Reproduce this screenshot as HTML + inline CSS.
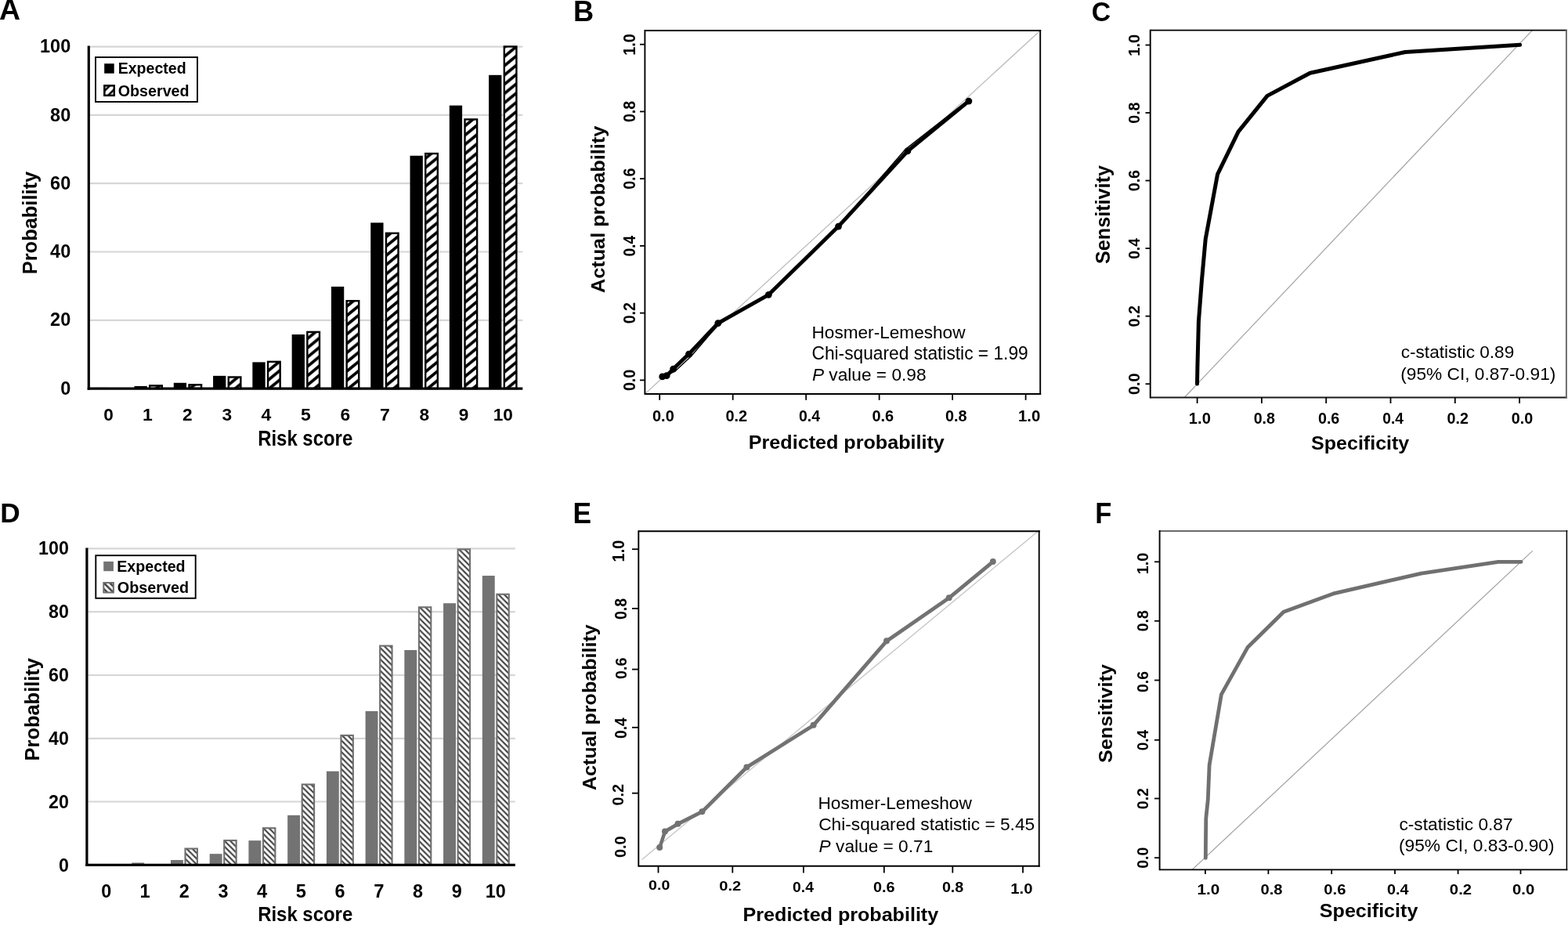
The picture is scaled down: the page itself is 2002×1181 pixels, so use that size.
<!DOCTYPE html>
<html><head><meta charset="utf-8"><title>Figure</title>
<style>
html,body{margin:0;padding:0;background:#fff;}
body{width:2002px;height:1181px;overflow:hidden;}
svg{display:block;}
text{font-family:'Liberation Sans', Arial, Helvetica, sans-serif;}
</style></head><body>
<svg width="2002" height="1181" viewBox="0 0 2002 1181">
<rect width="2002" height="1181" fill="#fff"/>
<defs>
<pattern id="hatchA" patternUnits="userSpaceOnUse" x="0" y="0" width="14.4512" height="11.8500"><rect x="-1" y="-1" width="16.451" height="13.850" fill="#fff"/><path d="M-2.00,-14.360L16.451,-29.490M-2.00,-2.510L16.451,-17.640M-2.00,9.340L16.451,-5.790M-2.00,21.190L16.451,6.060M-2.00,33.040L16.451,17.910M-2.00,44.890L16.451,29.760" stroke="#000" stroke-width="3.712" fill="none"/></pattern>
<pattern id="hatchAi" patternUnits="userSpaceOnUse" x="0" y="0" width="10.5000" height="10.5000"><rect x="-1" y="-1" width="12.500" height="12.500" fill="#fff"/><path d="M-2.00,-11.000L12.500,-25.500M-2.00,-0.500L12.500,-15.000M-2.00,10.000L12.500,-4.500M-2.00,20.500L12.500,6.000M-2.00,31.000L12.500,16.500M-2.00,41.500L12.500,27.000" stroke="#000" stroke-width="2.546" fill="none"/></pattern>
<pattern id="hatchD" patternUnits="userSpaceOnUse" x="0" y="0" width="7.3000" height="7.3000"><rect x="-1" y="-1" width="9.300" height="9.300" fill="#fff"/><path d="M-2.00,-10.800L9.300,0.500M-2.00,-3.500L9.300,7.800M-2.00,3.800L9.300,15.100M-2.00,11.100L9.300,22.400M-2.00,18.400L9.300,29.700M-2.00,25.700L9.300,37.000" stroke="#3f3f3f" stroke-width="2.121" fill="none"/></pattern>
<pattern id="hatchDi" patternUnits="userSpaceOnUse" x="0" y="0" width="7.6500" height="7.6500"><rect x="-1" y="-1" width="9.650" height="9.650" fill="#fff"/><path d="M-2.00,-10.000L9.650,1.650M-2.00,-2.350L9.650,9.300M-2.00,5.300L9.650,16.950M-2.00,12.950L9.650,24.600M-2.00,20.600L9.650,32.250M-2.00,28.250L9.650,39.900" stroke="#3e3e3e" stroke-width="2.546" fill="none"/></pattern>
</defs>
<line x1="115.00" y1="59.60" x2="667.30" y2="59.60" stroke="#d6d6d6" stroke-width="2.2" stroke-linecap="butt"/>
<line x1="115.00" y1="146.90" x2="667.30" y2="146.90" stroke="#d6d6d6" stroke-width="2.2" stroke-linecap="butt"/>
<line x1="115.00" y1="234.20" x2="667.30" y2="234.20" stroke="#d6d6d6" stroke-width="2.2" stroke-linecap="butt"/>
<line x1="115.00" y1="321.50" x2="667.30" y2="321.50" stroke="#d6d6d6" stroke-width="2.2" stroke-linecap="butt"/>
<line x1="115.00" y1="408.80" x2="667.30" y2="408.80" stroke="#d6d6d6" stroke-width="2.2" stroke-linecap="butt"/>
<rect x="121.20" y="494.91" width="16.30" height="1.09" fill="#000"/>
<rect x="171.49" y="492.95" width="16.30" height="3.05" fill="#000"/>
<rect x="191.19" y="492.40" width="15.60" height="3.60" fill="url(#hatchA)" stroke="#000" stroke-width="2.4"/>
<rect x="221.78" y="488.80" width="16.30" height="7.20" fill="#000"/>
<rect x="241.48" y="491.31" width="15.60" height="4.69" fill="url(#hatchA)" stroke="#000" stroke-width="2.4"/>
<rect x="272.07" y="479.85" width="16.30" height="16.15" fill="#000"/>
<rect x="291.77" y="481.49" width="15.60" height="14.51" fill="url(#hatchA)" stroke="#000" stroke-width="2.4"/>
<rect x="322.36" y="462.40" width="16.30" height="33.60" fill="#000"/>
<rect x="342.06" y="461.85" width="15.60" height="34.15" fill="url(#hatchA)" stroke="#000" stroke-width="2.4"/>
<rect x="372.65" y="427.05" width="16.30" height="68.95" fill="#000"/>
<rect x="392.35" y="423.88" width="15.60" height="72.12" fill="url(#hatchA)" stroke="#000" stroke-width="2.4"/>
<rect x="422.94" y="365.95" width="16.30" height="130.05" fill="#000"/>
<rect x="442.64" y="384.17" width="15.60" height="111.83" fill="url(#hatchA)" stroke="#000" stroke-width="2.4"/>
<rect x="473.23" y="284.35" width="16.30" height="211.65" fill="#000"/>
<rect x="492.93" y="297.77" width="15.60" height="198.23" fill="url(#hatchA)" stroke="#000" stroke-width="2.4"/>
<rect x="523.52" y="198.81" width="16.30" height="297.19" fill="#000"/>
<rect x="543.22" y="196.08" width="15.60" height="299.92" fill="url(#hatchA)" stroke="#000" stroke-width="2.4"/>
<rect x="573.81" y="134.66" width="16.30" height="361.34" fill="#000"/>
<rect x="593.51" y="152.44" width="15.60" height="343.56" fill="url(#hatchA)" stroke="#000" stroke-width="2.4"/>
<rect x="624.10" y="95.82" width="16.30" height="400.18" fill="#000"/>
<rect x="643.80" y="59.49" width="15.60" height="436.51" fill="url(#hatchA)" stroke="#000" stroke-width="2.4"/>
<line x1="113.30" y1="58.50" x2="113.30" y2="497.70" stroke="#000" stroke-width="3.2" stroke-linecap="butt"/>
<line x1="111.70" y1="496.10" x2="667.30" y2="496.10" stroke="#000" stroke-width="3.3" stroke-linecap="butt"/>
<rect x="122.00" y="73.10" width="130.00" height="56.90" fill="#fff" stroke="#000" stroke-width="1.9"/>
<rect x="133.20" y="81.20" width="12.50" height="12.50" fill="#000"/>
<rect x="133.35" y="109.35" width="12.40" height="12.50" fill="url(#hatchAi)" stroke="#000" stroke-width="2.5"/>
<text x="150.68" y="94.00" font-size="19.86" font-weight="bold" font-style="normal" textLength="86.92" lengthAdjust="spacingAndGlyphs" fill="#000">Expected</text>
<text x="150.81" y="122.70" font-size="19.72" font-weight="bold" font-style="normal" textLength="90.78" lengthAdjust="spacingAndGlyphs" fill="#000">Observed</text>
<text x="51.03" y="67.20" font-size="23.51" font-weight="bold" font-style="normal" textLength="39.23" lengthAdjust="spacingAndGlyphs" fill="#000">100</text>
<text x="64.14" y="154.50" font-size="23.51" font-weight="bold" font-style="normal" textLength="26.15" lengthAdjust="spacingAndGlyphs" fill="#000">80</text>
<text x="64.14" y="241.80" font-size="23.51" font-weight="bold" font-style="normal" textLength="26.15" lengthAdjust="spacingAndGlyphs" fill="#000">60</text>
<text x="64.14" y="329.10" font-size="23.51" font-weight="bold" font-style="normal" textLength="26.15" lengthAdjust="spacingAndGlyphs" fill="#000">40</text>
<text x="64.14" y="416.40" font-size="23.51" font-weight="bold" font-style="normal" textLength="26.15" lengthAdjust="spacingAndGlyphs" fill="#000">20</text>
<text x="77.19" y="503.90" font-size="23.51" font-weight="bold" font-style="normal" textLength="13.08" lengthAdjust="spacingAndGlyphs" fill="#000">0</text>
<text x="132.21" y="537.00" font-size="22.65" font-weight="bold" font-style="normal" textLength="12.60" lengthAdjust="spacingAndGlyphs" fill="#000">0</text>
<text x="182.12" y="537.00" font-size="22.98" font-weight="bold" font-style="normal" textLength="12.78" lengthAdjust="spacingAndGlyphs" fill="#000">1</text>
<text x="233.04" y="537.00" font-size="22.65" font-weight="bold" font-style="normal" textLength="12.60" lengthAdjust="spacingAndGlyphs" fill="#000">2</text>
<text x="283.56" y="537.00" font-size="22.65" font-weight="bold" font-style="normal" textLength="12.60" lengthAdjust="spacingAndGlyphs" fill="#000">3</text>
<text x="333.61" y="537.00" font-size="22.98" font-weight="bold" font-style="normal" textLength="12.78" lengthAdjust="spacingAndGlyphs" fill="#000">4</text>
<text x="384.09" y="537.00" font-size="22.98" font-weight="bold" font-style="normal" textLength="12.78" lengthAdjust="spacingAndGlyphs" fill="#000">5</text>
<text x="434.59" y="537.00" font-size="22.65" font-weight="bold" font-style="normal" textLength="12.60" lengthAdjust="spacingAndGlyphs" fill="#000">6</text>
<text x="484.92" y="537.00" font-size="22.98" font-weight="bold" font-style="normal" textLength="12.78" lengthAdjust="spacingAndGlyphs" fill="#000">7</text>
<text x="535.39" y="537.00" font-size="22.65" font-weight="bold" font-style="normal" textLength="12.60" lengthAdjust="spacingAndGlyphs" fill="#000">8</text>
<text x="585.81" y="537.00" font-size="22.65" font-weight="bold" font-style="normal" textLength="12.60" lengthAdjust="spacingAndGlyphs" fill="#000">9</text>
<text x="629.67" y="537.00" font-size="22.65" font-weight="bold" font-style="normal" textLength="25.20" lengthAdjust="spacingAndGlyphs" fill="#000">10</text>
<text x="329.19" y="568.80" font-size="26.76" font-weight="bold" font-style="normal" textLength="121.02" lengthAdjust="spacingAndGlyphs" fill="#000">Risk score</text>
<text transform="translate(47.10,350.22) rotate(-90)" font-size="25.24" font-weight="bold" textLength="131.35" lengthAdjust="spacingAndGlyphs">Probability</text>
<text x="-0.94" y="24.90" font-size="36.51" font-weight="bold" font-style="normal" textLength="27.06" lengthAdjust="spacingAndGlyphs" fill="#000">A</text>
<line x1="112.50" y1="700.30" x2="657.80" y2="700.30" stroke="#d6d6d6" stroke-width="2.2" stroke-linecap="butt"/>
<line x1="112.50" y1="781.10" x2="657.80" y2="781.10" stroke="#d6d6d6" stroke-width="2.2" stroke-linecap="butt"/>
<line x1="112.50" y1="862.00" x2="657.80" y2="862.00" stroke="#d6d6d6" stroke-width="2.2" stroke-linecap="butt"/>
<line x1="112.50" y1="942.80" x2="657.80" y2="942.80" stroke="#d6d6d6" stroke-width="2.2" stroke-linecap="butt"/>
<line x1="112.50" y1="1023.50" x2="657.80" y2="1023.50" stroke="#d6d6d6" stroke-width="2.2" stroke-linecap="butt"/>
<rect x="118.50" y="1103.90" width="15.90" height="0.40" fill="#737373"/>
<rect x="168.23" y="1101.47" width="15.90" height="2.83" fill="#737373"/>
<rect x="217.96" y="1098.04" width="15.90" height="6.26" fill="#737373"/>
<rect x="236.51" y="1083.53" width="15.40" height="20.77" fill="url(#hatchD)" stroke="#6f6f6f" stroke-width="2.1"/>
<rect x="267.69" y="1090.16" width="15.90" height="14.14" fill="#737373"/>
<rect x="286.24" y="1073.03" width="15.40" height="31.27" fill="url(#hatchD)" stroke="#6f6f6f" stroke-width="2.1"/>
<rect x="317.42" y="1073.19" width="15.90" height="31.11" fill="#737373"/>
<rect x="335.97" y="1057.27" width="15.40" height="47.03" fill="url(#hatchD)" stroke="#6f6f6f" stroke-width="2.1"/>
<rect x="367.15" y="1040.87" width="15.90" height="63.43" fill="#737373"/>
<rect x="385.70" y="1001.52" width="15.40" height="102.78" fill="url(#hatchD)" stroke="#6f6f6f" stroke-width="2.1"/>
<rect x="416.88" y="984.72" width="15.90" height="119.58" fill="#737373"/>
<rect x="435.43" y="938.90" width="15.40" height="165.40" fill="url(#hatchD)" stroke="#6f6f6f" stroke-width="2.1"/>
<rect x="466.61" y="907.96" width="15.90" height="196.34" fill="#737373"/>
<rect x="485.16" y="824.57" width="15.40" height="279.73" fill="url(#hatchD)" stroke="#6f6f6f" stroke-width="2.1"/>
<rect x="516.34" y="829.98" width="15.90" height="274.32" fill="#737373"/>
<rect x="534.89" y="775.28" width="15.40" height="329.02" fill="url(#hatchD)" stroke="#6f6f6f" stroke-width="2.1"/>
<rect x="566.07" y="770.19" width="15.90" height="334.11" fill="#737373"/>
<rect x="584.62" y="701.35" width="15.40" height="402.95" fill="url(#hatchD)" stroke="#6f6f6f" stroke-width="2.1"/>
<rect x="615.80" y="735.04" width="15.90" height="369.26" fill="#737373"/>
<rect x="634.35" y="758.72" width="15.40" height="345.58" fill="url(#hatchD)" stroke="#6f6f6f" stroke-width="2.1"/>
<line x1="110.90" y1="699.50" x2="110.90" y2="1106.00" stroke="#000" stroke-width="3.2" stroke-linecap="butt"/>
<line x1="109.30" y1="1104.40" x2="657.80" y2="1104.40" stroke="#000" stroke-width="3.3" stroke-linecap="butt"/>
<rect x="122.30" y="709.20" width="127.40" height="54.60" fill="#fff" stroke="#000" stroke-width="1.9"/>
<rect x="132.20" y="716.90" width="12.70" height="12.30" fill="#737373"/>
<rect x="132.30" y="744.00" width="12.60" height="12.50" fill="url(#hatchDi)" stroke="#6f6f6f" stroke-width="2.0"/>
<text x="149.27" y="729.70" font-size="19.72" font-weight="bold" font-style="normal" textLength="87.33" lengthAdjust="spacingAndGlyphs" fill="#000">Expected</text>
<text x="149.81" y="756.90" font-size="20.00" font-weight="bold" font-style="normal" textLength="91.30" lengthAdjust="spacingAndGlyphs" fill="#000">Observed</text>
<text x="49.10" y="707.70" font-size="23.23" font-weight="bold" font-style="normal" textLength="38.75" lengthAdjust="spacingAndGlyphs" fill="#000">100</text>
<text x="62.05" y="788.70" font-size="23.23" font-weight="bold" font-style="normal" textLength="25.84" lengthAdjust="spacingAndGlyphs" fill="#000">80</text>
<text x="62.05" y="870.00" font-size="23.23" font-weight="bold" font-style="normal" textLength="25.84" lengthAdjust="spacingAndGlyphs" fill="#000">60</text>
<text x="62.05" y="951.30" font-size="23.23" font-weight="bold" font-style="normal" textLength="25.84" lengthAdjust="spacingAndGlyphs" fill="#000">40</text>
<text x="62.05" y="1031.90" font-size="23.23" font-weight="bold" font-style="normal" textLength="25.84" lengthAdjust="spacingAndGlyphs" fill="#000">20</text>
<text x="74.94" y="1112.70" font-size="23.23" font-weight="bold" font-style="normal" textLength="12.92" lengthAdjust="spacingAndGlyphs" fill="#000">0</text>
<text x="129.22" y="1145.70" font-size="23.37" font-weight="bold" font-style="normal" textLength="13.00" lengthAdjust="spacingAndGlyphs" fill="#000">0</text>
<text x="178.44" y="1145.70" font-size="23.71" font-weight="bold" font-style="normal" textLength="13.19" lengthAdjust="spacingAndGlyphs" fill="#000">1</text>
<text x="228.70" y="1145.70" font-size="23.37" font-weight="bold" font-style="normal" textLength="13.00" lengthAdjust="spacingAndGlyphs" fill="#000">2</text>
<text x="278.55" y="1145.70" font-size="23.37" font-weight="bold" font-style="normal" textLength="13.00" lengthAdjust="spacingAndGlyphs" fill="#000">3</text>
<text x="327.92" y="1145.70" font-size="23.71" font-weight="bold" font-style="normal" textLength="13.19" lengthAdjust="spacingAndGlyphs" fill="#000">4</text>
<text x="377.74" y="1145.70" font-size="23.71" font-weight="bold" font-style="normal" textLength="13.19" lengthAdjust="spacingAndGlyphs" fill="#000">5</text>
<text x="427.57" y="1145.70" font-size="23.37" font-weight="bold" font-style="normal" textLength="13.00" lengthAdjust="spacingAndGlyphs" fill="#000">6</text>
<text x="477.23" y="1145.70" font-size="23.71" font-weight="bold" font-style="normal" textLength="13.19" lengthAdjust="spacingAndGlyphs" fill="#000">7</text>
<text x="527.03" y="1145.70" font-size="23.37" font-weight="bold" font-style="normal" textLength="13.00" lengthAdjust="spacingAndGlyphs" fill="#000">8</text>
<text x="576.79" y="1145.70" font-size="23.37" font-weight="bold" font-style="normal" textLength="13.00" lengthAdjust="spacingAndGlyphs" fill="#000">9</text>
<text x="619.77" y="1145.70" font-size="23.37" font-weight="bold" font-style="normal" textLength="25.99" lengthAdjust="spacingAndGlyphs" fill="#000">10</text>
<text x="329.19" y="1175.80" font-size="26.62" font-weight="bold" font-style="normal" textLength="121.02" lengthAdjust="spacingAndGlyphs" fill="#000">Risk score</text>
<text transform="translate(49.60,971.42) rotate(-90)" font-size="25.52" font-weight="bold" textLength="131.35" lengthAdjust="spacingAndGlyphs">Probability</text>
<text x="0.32" y="667.20" font-size="35.64" font-weight="bold" font-style="normal" textLength="25.47" lengthAdjust="spacingAndGlyphs" fill="#000">D</text>
<line x1="823.40" y1="503.00" x2="1328.20" y2="39.00" stroke="#bdbdbd" stroke-width="1.3" stroke-linecap="butt"/>
<line x1="823.40" y1="39.00" x2="1329.15" y2="39.00" stroke="#000" stroke-width="1.9" stroke-linecap="butt"/>
<line x1="823.40" y1="503.00" x2="1329.15" y2="503.00" stroke="#000" stroke-width="1.9" stroke-linecap="butt"/>
<line x1="823.40" y1="38.05" x2="823.40" y2="503.95" stroke="#000" stroke-width="1.9" stroke-linecap="butt"/>
<line x1="1328.20" y1="38.05" x2="1328.20" y2="503.95" stroke="#000" stroke-width="1.9" stroke-linecap="butt"/>
<line x1="817.00" y1="56.70" x2="823.40" y2="56.70" stroke="#000" stroke-width="1.8" stroke-linecap="butt"/>
<line x1="817.00" y1="142.44" x2="823.40" y2="142.44" stroke="#000" stroke-width="1.8" stroke-linecap="butt"/>
<line x1="817.00" y1="228.18" x2="823.40" y2="228.18" stroke="#000" stroke-width="1.8" stroke-linecap="butt"/>
<line x1="817.00" y1="313.92" x2="823.40" y2="313.92" stroke="#000" stroke-width="1.8" stroke-linecap="butt"/>
<line x1="817.00" y1="399.66" x2="823.40" y2="399.66" stroke="#000" stroke-width="1.8" stroke-linecap="butt"/>
<line x1="817.00" y1="485.40" x2="823.40" y2="485.40" stroke="#000" stroke-width="1.8" stroke-linecap="butt"/>
<line x1="842.20" y1="503.00" x2="842.20" y2="510.80" stroke="#000" stroke-width="1.8" stroke-linecap="butt"/>
<line x1="935.68" y1="503.00" x2="935.68" y2="510.80" stroke="#000" stroke-width="1.8" stroke-linecap="butt"/>
<line x1="1029.16" y1="503.00" x2="1029.16" y2="510.80" stroke="#000" stroke-width="1.8" stroke-linecap="butt"/>
<line x1="1122.64" y1="503.00" x2="1122.64" y2="510.80" stroke="#000" stroke-width="1.8" stroke-linecap="butt"/>
<line x1="1216.12" y1="503.00" x2="1216.12" y2="510.80" stroke="#000" stroke-width="1.8" stroke-linecap="butt"/>
<line x1="1309.60" y1="503.00" x2="1309.60" y2="510.80" stroke="#000" stroke-width="1.8" stroke-linecap="butt"/>
<polyline points="845.7,480.9 851.2,479.6 862.1,473.7 882.3,455.0 917.8,413.6 981.3,376.3 1070.5,289.1 1156.4,190.3 1235.9,128.1" fill="none" stroke="#000" stroke-width="1.5" stroke-linejoin="round" stroke-linecap="round"/>
<polyline points="845.7,480.9 851.2,479.6 859.6,471.1 879.5,452.1 916.8,412.6 981.3,376.3 1070.5,289.1 1158.9,192.8 1236.9,129.1" fill="none" stroke="#000" stroke-width="4.9" stroke-linejoin="round" stroke-linecap="round"/>
<circle cx="845.7" cy="480.9" r="4.4" fill="#000"/>
<circle cx="851.2" cy="479.6" r="4.4" fill="#000"/>
<circle cx="859.6" cy="471.1" r="4.4" fill="#000"/>
<circle cx="879.5" cy="452.1" r="4.4" fill="#000"/>
<circle cx="916.8" cy="412.6" r="4.4" fill="#000"/>
<circle cx="981.3" cy="376.3" r="4.4" fill="#000"/>
<circle cx="1070.5" cy="289.1" r="4.4" fill="#000"/>
<circle cx="1158.9" cy="192.8" r="4.4" fill="#000"/>
<circle cx="1236.9" cy="129.1" r="4.4" fill="#000"/>
<text x="833.00" y="538.20" font-size="20.36" font-weight="bold" font-style="normal" textLength="27.80" lengthAdjust="spacingAndGlyphs" fill="#000">0.0</text>
<text x="926.48" y="538.20" font-size="20.36" font-weight="bold" font-style="normal" textLength="27.75" lengthAdjust="spacingAndGlyphs" fill="#000">0.2</text>
<text x="1019.98" y="538.20" font-size="20.36" font-weight="bold" font-style="normal" textLength="27.08" lengthAdjust="spacingAndGlyphs" fill="#000">0.4</text>
<text x="1113.44" y="538.20" font-size="20.36" font-weight="bold" font-style="normal" textLength="27.70" lengthAdjust="spacingAndGlyphs" fill="#000">0.6</text>
<text x="1206.93" y="538.20" font-size="20.36" font-weight="bold" font-style="normal" textLength="27.59" lengthAdjust="spacingAndGlyphs" fill="#000">0.8</text>
<text x="1299.93" y="538.20" font-size="20.36" font-weight="bold" font-style="normal" textLength="28.29" lengthAdjust="spacingAndGlyphs" fill="#000">1.0</text>
<text transform="translate(811.40,499.09) rotate(-90)" font-size="21.79" font-weight="bold" textLength="27.38" lengthAdjust="spacingAndGlyphs">0.0</text>
<text transform="translate(811.40,413.35) rotate(-90)" font-size="21.79" font-weight="bold" textLength="27.33" lengthAdjust="spacingAndGlyphs">0.2</text>
<text transform="translate(811.40,327.59) rotate(-90)" font-size="21.79" font-weight="bold" textLength="26.67" lengthAdjust="spacingAndGlyphs">0.4</text>
<text transform="translate(811.40,241.86) rotate(-90)" font-size="21.79" font-weight="bold" textLength="27.28" lengthAdjust="spacingAndGlyphs">0.6</text>
<text transform="translate(811.40,156.12) rotate(-90)" font-size="21.79" font-weight="bold" textLength="27.17" lengthAdjust="spacingAndGlyphs">0.8</text>
<text transform="translate(811.40,70.85) rotate(-90)" font-size="21.79" font-weight="bold" textLength="27.86" lengthAdjust="spacingAndGlyphs">1.0</text>
<text transform="translate(772.40,374.03) rotate(-90)" font-size="24.00" font-weight="bold" textLength="213.27" lengthAdjust="spacingAndGlyphs">Actual probability</text>
<text x="955.80" y="573.30" font-size="24.69" font-weight="bold" font-style="normal" textLength="250.06" lengthAdjust="spacingAndGlyphs" fill="#000">Predicted probability</text>
<text x="1036.53" y="432.00" font-size="22.07" font-weight="normal" font-style="normal" textLength="196.00" lengthAdjust="spacingAndGlyphs" fill="#000">Hosmer-Lemeshow</text>
<text x="1036.46" y="459.10" font-size="23.03" font-weight="normal" font-style="normal" textLength="276.27" lengthAdjust="spacingAndGlyphs" fill="#000">Chi-squared statistic = 1.99</text>
<text x="1036.92" y="485.80" font-size="22.55" font-weight="normal" transform="translate(1036.92,0) scale(1.0060,1) translate(-1036.92,0)"><tspan font-style="italic">P</tspan> value = 0.98</text>
<text x="732.05" y="27.40" font-size="36.51" font-weight="bold" font-style="normal" textLength="26.16" lengthAdjust="spacingAndGlyphs" fill="#000">B</text>
<line x1="1512.30" y1="507.50" x2="1956.50" y2="38.60" stroke="#a6a6a6" stroke-width="1.3" stroke-linecap="butt"/>
<line x1="1468.70" y1="38.60" x2="2000.85" y2="38.60" stroke="#000" stroke-width="1.9" stroke-linecap="butt"/>
<line x1="1468.70" y1="507.50" x2="2000.85" y2="507.50" stroke="#1a1a1a" stroke-width="1.9" stroke-linecap="butt"/>
<line x1="1468.70" y1="37.65" x2="1468.70" y2="508.45" stroke="#000" stroke-width="1.9" stroke-linecap="butt"/>
<line x1="1999.90" y1="37.65" x2="1999.90" y2="508.45" stroke="#666" stroke-width="1.9" stroke-linecap="butt"/>
<line x1="1462.50" y1="57.50" x2="1468.70" y2="57.50" stroke="#000" stroke-width="1.8" stroke-linecap="butt"/>
<line x1="1462.50" y1="144.04" x2="1468.70" y2="144.04" stroke="#000" stroke-width="1.8" stroke-linecap="butt"/>
<line x1="1462.50" y1="230.58" x2="1468.70" y2="230.58" stroke="#000" stroke-width="1.8" stroke-linecap="butt"/>
<line x1="1462.50" y1="317.12" x2="1468.70" y2="317.12" stroke="#000" stroke-width="1.8" stroke-linecap="butt"/>
<line x1="1462.50" y1="403.66" x2="1468.70" y2="403.66" stroke="#000" stroke-width="1.8" stroke-linecap="butt"/>
<line x1="1462.50" y1="490.20" x2="1468.70" y2="490.20" stroke="#000" stroke-width="1.8" stroke-linecap="butt"/>
<line x1="1528.60" y1="507.50" x2="1528.60" y2="515.00" stroke="#000" stroke-width="1.8" stroke-linecap="butt"/>
<line x1="1610.90" y1="507.50" x2="1610.90" y2="515.00" stroke="#000" stroke-width="1.8" stroke-linecap="butt"/>
<line x1="1693.20" y1="507.50" x2="1693.20" y2="515.00" stroke="#000" stroke-width="1.8" stroke-linecap="butt"/>
<line x1="1775.50" y1="507.50" x2="1775.50" y2="515.00" stroke="#000" stroke-width="1.8" stroke-linecap="butt"/>
<line x1="1857.80" y1="507.50" x2="1857.80" y2="515.00" stroke="#000" stroke-width="1.8" stroke-linecap="butt"/>
<line x1="1940.10" y1="507.50" x2="1940.10" y2="515.00" stroke="#000" stroke-width="1.8" stroke-linecap="butt"/>
<polyline points="1528.5,490.1 1528.9,468.1 1530.4,410.4 1534.4,358.2 1539.2,305.3 1554.5,222.7 1581.1,168.1 1618.0,122.4 1672.6,93.2 1794.0,66.5 1940.6,57.3" fill="none" stroke="#000" stroke-width="5.0" stroke-linejoin="round" stroke-linecap="round"/>
<text x="1517.89" y="540.90" font-size="19.64" font-weight="bold" font-style="normal" textLength="27.97" lengthAdjust="spacingAndGlyphs" fill="#000">1.0</text>
<text x="1600.67" y="540.90" font-size="19.64" font-weight="bold" font-style="normal" textLength="27.28" lengthAdjust="spacingAndGlyphs" fill="#000">0.8</text>
<text x="1682.96" y="540.90" font-size="19.64" font-weight="bold" font-style="normal" textLength="27.38" lengthAdjust="spacingAndGlyphs" fill="#000">0.6</text>
<text x="1765.28" y="540.90" font-size="19.64" font-weight="bold" font-style="normal" textLength="26.77" lengthAdjust="spacingAndGlyphs" fill="#000">0.4</text>
<text x="1847.56" y="540.90" font-size="19.64" font-weight="bold" font-style="normal" textLength="27.43" lengthAdjust="spacingAndGlyphs" fill="#000">0.2</text>
<text x="1929.86" y="540.90" font-size="19.64" font-weight="bold" font-style="normal" textLength="27.49" lengthAdjust="spacingAndGlyphs" fill="#000">0.0</text>
<text transform="translate(1455.40,503.94) rotate(-90)" font-size="21.08" font-weight="bold" textLength="27.49" lengthAdjust="spacingAndGlyphs">0.0</text>
<text transform="translate(1455.40,417.40) rotate(-90)" font-size="21.08" font-weight="bold" textLength="27.43" lengthAdjust="spacingAndGlyphs">0.2</text>
<text transform="translate(1455.40,330.84) rotate(-90)" font-size="21.08" font-weight="bold" textLength="26.77" lengthAdjust="spacingAndGlyphs">0.4</text>
<text transform="translate(1455.40,244.32) rotate(-90)" font-size="21.08" font-weight="bold" textLength="27.38" lengthAdjust="spacingAndGlyphs">0.6</text>
<text transform="translate(1455.40,157.77) rotate(-90)" font-size="21.08" font-weight="bold" textLength="27.28" lengthAdjust="spacingAndGlyphs">0.8</text>
<text transform="translate(1455.40,71.71) rotate(-90)" font-size="21.08" font-weight="bold" textLength="27.97" lengthAdjust="spacingAndGlyphs">1.0</text>
<text transform="translate(1417.40,336.96) rotate(-90)" font-size="25.66" font-weight="bold" textLength="125.93" lengthAdjust="spacingAndGlyphs">Sensitivity</text>
<text x="1674.05" y="574.00" font-size="24.83" font-weight="bold" font-style="normal" textLength="125.23" lengthAdjust="spacingAndGlyphs" fill="#000">Specificity</text>
<text x="1788.74" y="456.50" font-size="22.34" font-weight="normal" font-style="normal" textLength="144.51" lengthAdjust="spacingAndGlyphs" fill="#000">c-statistic 0.89</text>
<text x="1788.28" y="485.25" font-size="22.41" font-weight="normal" font-style="normal" textLength="198.07" lengthAdjust="spacingAndGlyphs" fill="#000">(95% CI, 0.87-0.91)</text>
<text x="1393.85" y="27.40" font-size="35.99" font-weight="bold" font-style="normal" textLength="24.37" lengthAdjust="spacingAndGlyphs" fill="#000">C</text>
<line x1="819.60" y1="1097.40" x2="1324.50" y2="679.00" stroke="#c4c4c4" stroke-width="1.3" stroke-linecap="butt"/>
<line x1="815.30" y1="678.20" x2="1327.65" y2="678.20" stroke="#000" stroke-width="1.9" stroke-linecap="butt"/>
<line x1="815.30" y1="1105.80" x2="1327.65" y2="1105.80" stroke="#000" stroke-width="1.9" stroke-linecap="butt"/>
<line x1="815.30" y1="677.25" x2="815.30" y2="1106.75" stroke="#000" stroke-width="1.9" stroke-linecap="butt"/>
<line x1="1326.70" y1="677.25" x2="1326.70" y2="1106.75" stroke="#000" stroke-width="1.9" stroke-linecap="butt"/>
<line x1="807.00" y1="701.20" x2="815.30" y2="701.20" stroke="#000" stroke-width="1.8" stroke-linecap="butt"/>
<line x1="807.00" y1="776.90" x2="815.30" y2="776.90" stroke="#000" stroke-width="1.8" stroke-linecap="butt"/>
<line x1="807.00" y1="854.60" x2="815.30" y2="854.60" stroke="#000" stroke-width="1.8" stroke-linecap="butt"/>
<line x1="807.00" y1="928.80" x2="815.30" y2="928.80" stroke="#000" stroke-width="1.8" stroke-linecap="butt"/>
<line x1="807.00" y1="1012.70" x2="815.30" y2="1012.70" stroke="#000" stroke-width="1.8" stroke-linecap="butt"/>
<line x1="840.50" y1="1105.80" x2="840.50" y2="1114.50" stroke="#000" stroke-width="1.8" stroke-linecap="butt"/>
<line x1="935.30" y1="1105.80" x2="935.30" y2="1114.50" stroke="#000" stroke-width="1.8" stroke-linecap="butt"/>
<line x1="1025.90" y1="1105.80" x2="1025.90" y2="1114.50" stroke="#000" stroke-width="1.8" stroke-linecap="butt"/>
<line x1="1128.80" y1="1105.80" x2="1128.80" y2="1114.50" stroke="#000" stroke-width="1.8" stroke-linecap="butt"/>
<line x1="1216.30" y1="1105.80" x2="1216.30" y2="1114.50" stroke="#000" stroke-width="1.8" stroke-linecap="butt"/>
<line x1="1306.00" y1="1105.80" x2="1306.00" y2="1114.50" stroke="#000" stroke-width="1.8" stroke-linecap="butt"/>
<polyline points="843.4,1083.6 850.2,1062.9 866.7,1053.3 897.6,1037.7 954.6,980.9 1039.8,927.3 1133.2,819.8 1212.9,764.7 1269.0,718.5" fill="none" stroke="#8a8a8a" stroke-width="1.4" stroke-linejoin="round" stroke-linecap="round"/>
<polyline points="842.2,1082.1 849.0,1061.4 865.5,1051.8 896.4,1036.2 953.4,979.4 1038.6,925.8 1132.0,818.3 1211.7,763.2 1267.8,717.0" fill="none" stroke="#727272" stroke-width="4.4" stroke-linejoin="round" stroke-linecap="round"/>
<circle cx="842.2" cy="1082.1" r="4.0" fill="#727272"/>
<circle cx="849.0" cy="1061.4" r="4.0" fill="#727272"/>
<circle cx="865.5" cy="1051.8" r="4.0" fill="#727272"/>
<circle cx="896.4" cy="1036.2" r="4.0" fill="#727272"/>
<circle cx="953.4" cy="979.4" r="4.0" fill="#727272"/>
<circle cx="1038.6" cy="925.8" r="4.0" fill="#727272"/>
<circle cx="1132.0" cy="818.3" r="4.0" fill="#727272"/>
<circle cx="1211.7" cy="763.2" r="4.0" fill="#727272"/>
<circle cx="1267.8" cy="717.0" r="4.0" fill="#727272"/>
<text x="828.12" y="1135.70" font-size="17.06" font-weight="bold" font-style="normal" textLength="27.17" lengthAdjust="spacingAndGlyphs" fill="#000">0.0</text>
<text x="918.30" y="1136.60" font-size="17.06" font-weight="bold" font-style="normal" textLength="27.96" lengthAdjust="spacingAndGlyphs" fill="#000">0.2</text>
<text x="1012.13" y="1139.00" font-size="18.64" font-weight="bold" font-style="normal" textLength="26.87" lengthAdjust="spacingAndGlyphs" fill="#000">0.4</text>
<text x="1115.01" y="1139.00" font-size="19.21" font-weight="bold" font-style="normal" textLength="27.49" lengthAdjust="spacingAndGlyphs" fill="#000">0.6</text>
<text x="1202.91" y="1139.00" font-size="19.21" font-weight="bold" font-style="normal" textLength="27.38" lengthAdjust="spacingAndGlyphs" fill="#000">0.8</text>
<text x="1290.34" y="1141.00" font-size="18.64" font-weight="bold" font-style="normal" textLength="28.07" lengthAdjust="spacingAndGlyphs" fill="#000">1.0</text>
<text transform="translate(796.80,717.45) rotate(-90)" font-size="21.36" font-weight="bold" textLength="27.86" lengthAdjust="spacingAndGlyphs">1.0</text>
<text transform="translate(799.70,791.08) rotate(-90)" font-size="21.22" font-weight="bold" textLength="27.17" lengthAdjust="spacingAndGlyphs">0.8</text>
<text transform="translate(799.70,866.88) rotate(-90)" font-size="20.65" font-weight="bold" textLength="27.28" lengthAdjust="spacingAndGlyphs">0.6</text>
<text transform="translate(800.20,942.97) rotate(-90)" font-size="22.51" font-weight="bold" textLength="26.67" lengthAdjust="spacingAndGlyphs">0.4</text>
<text transform="translate(795.70,1028.49) rotate(-90)" font-size="20.65" font-weight="bold" textLength="27.33" lengthAdjust="spacingAndGlyphs">0.2</text>
<text transform="translate(798.80,1094.99) rotate(-90)" font-size="19.50" font-weight="bold" textLength="27.38" lengthAdjust="spacingAndGlyphs">0.0</text>
<text transform="translate(761.00,1009.23) rotate(-90)" font-size="23.72" font-weight="bold" textLength="212.07" lengthAdjust="spacingAndGlyphs">Actual probability</text>
<text x="948.61" y="1175.50" font-size="24.00" font-weight="bold" font-style="normal" textLength="249.56" lengthAdjust="spacingAndGlyphs" fill="#000">Predicted probability</text>
<text x="1044.43" y="1033.30" font-size="21.93" font-weight="normal" font-style="normal" textLength="196.40" lengthAdjust="spacingAndGlyphs" fill="#000">Hosmer-Lemeshow</text>
<text x="1045.16" y="1060.00" font-size="22.48" font-weight="normal" font-style="normal" textLength="276.06" lengthAdjust="spacingAndGlyphs" fill="#000">Chi-squared statistic = 5.45</text>
<text x="1045.62" y="1087.80" font-size="22.21" font-weight="normal" transform="translate(1045.62,0) scale(1.0220,1) translate(-1045.62,0)"><tspan font-style="italic">P</tspan> value = 0.71</text>
<text x="731.41" y="668.10" font-size="36.51" font-weight="bold" font-style="normal" textLength="23.58" lengthAdjust="spacingAndGlyphs" fill="#000">E</text>
<line x1="1521.90" y1="1110.70" x2="1956.70" y2="703.40" stroke="#a6a6a6" stroke-width="1.3" stroke-linecap="butt"/>
<line x1="1480.60" y1="678.00" x2="2001.35" y2="678.00" stroke="#6a6a6a" stroke-width="1.9" stroke-linecap="butt"/>
<line x1="1480.60" y1="1110.40" x2="2001.35" y2="1110.40" stroke="#000" stroke-width="1.9" stroke-linecap="butt"/>
<line x1="1480.60" y1="677.05" x2="1480.60" y2="1111.35" stroke="#000" stroke-width="1.9" stroke-linecap="butt"/>
<line x1="2000.40" y1="677.05" x2="2000.40" y2="1111.35" stroke="#000" stroke-width="1.5" stroke-linecap="butt"/>
<line x1="1474.00" y1="717.30" x2="1480.60" y2="717.30" stroke="#000" stroke-width="1.8" stroke-linecap="butt"/>
<line x1="1474.00" y1="792.80" x2="1480.60" y2="792.80" stroke="#000" stroke-width="1.8" stroke-linecap="butt"/>
<line x1="1474.00" y1="868.50" x2="1480.60" y2="868.50" stroke="#000" stroke-width="1.8" stroke-linecap="butt"/>
<line x1="1474.00" y1="944.80" x2="1480.60" y2="944.80" stroke="#000" stroke-width="1.8" stroke-linecap="butt"/>
<line x1="1474.00" y1="1019.50" x2="1480.60" y2="1019.50" stroke="#000" stroke-width="1.8" stroke-linecap="butt"/>
<line x1="1474.00" y1="1095.20" x2="1480.60" y2="1095.20" stroke="#000" stroke-width="1.8" stroke-linecap="butt"/>
<line x1="1538.90" y1="1110.40" x2="1538.90" y2="1116.10" stroke="#000" stroke-width="1.8" stroke-linecap="butt"/>
<line x1="1619.40" y1="1110.40" x2="1619.40" y2="1116.10" stroke="#000" stroke-width="1.8" stroke-linecap="butt"/>
<line x1="1700.20" y1="1110.40" x2="1700.20" y2="1116.10" stroke="#000" stroke-width="1.8" stroke-linecap="butt"/>
<line x1="1781.00" y1="1110.40" x2="1781.00" y2="1116.10" stroke="#000" stroke-width="1.8" stroke-linecap="butt"/>
<line x1="1861.60" y1="1110.40" x2="1861.60" y2="1116.10" stroke="#000" stroke-width="1.8" stroke-linecap="butt"/>
<line x1="1941.50" y1="1110.40" x2="1941.50" y2="1116.10" stroke="#000" stroke-width="1.8" stroke-linecap="butt"/>
<polyline points="1539.3,1095.4 1539.5,1070.0 1539.8,1044.7 1542.3,1020.8 1544.1,976.9 1559.4,886.7 1593.2,826.2 1638.9,781.3 1702.4,757.9 1814.6,732.1 1913.0,717.3 1942.1,717.3" fill="none" stroke="#707070" stroke-width="4.8" stroke-linejoin="round" stroke-linecap="round"/>
<text x="1528.61" y="1141.70" font-size="18.35" font-weight="bold" font-style="normal" textLength="28.72" lengthAdjust="spacingAndGlyphs" fill="#000">1.0</text>
<text x="1609.49" y="1141.70" font-size="18.35" font-weight="bold" font-style="normal" textLength="28.01" lengthAdjust="spacingAndGlyphs" fill="#000">0.8</text>
<text x="1690.29" y="1141.70" font-size="18.35" font-weight="bold" font-style="normal" textLength="28.12" lengthAdjust="spacingAndGlyphs" fill="#000">0.6</text>
<text x="1770.91" y="1141.70" font-size="18.35" font-weight="bold" font-style="normal" textLength="27.49" lengthAdjust="spacingAndGlyphs" fill="#000">0.4</text>
<text x="1850.89" y="1141.70" font-size="18.35" font-weight="bold" font-style="normal" textLength="28.17" lengthAdjust="spacingAndGlyphs" fill="#000">0.2</text>
<text x="1931.09" y="1141.70" font-size="18.35" font-weight="bold" font-style="normal" textLength="28.23" lengthAdjust="spacingAndGlyphs" fill="#000">0.0</text>
<text transform="translate(1466.00,733.19) rotate(-90)" font-size="20.79" font-weight="bold" textLength="27.53" lengthAdjust="spacingAndGlyphs">1.0</text>
<text transform="translate(1466.00,806.22) rotate(-90)" font-size="20.79" font-weight="bold" textLength="26.86" lengthAdjust="spacingAndGlyphs">0.8</text>
<text transform="translate(1466.00,883.93) rotate(-90)" font-size="20.79" font-weight="bold" textLength="26.96" lengthAdjust="spacingAndGlyphs">0.6</text>
<text transform="translate(1466.00,958.21) rotate(-90)" font-size="20.79" font-weight="bold" textLength="26.36" lengthAdjust="spacingAndGlyphs">0.4</text>
<text transform="translate(1466.00,1033.13) rotate(-90)" font-size="20.79" font-weight="bold" textLength="27.01" lengthAdjust="spacingAndGlyphs">0.2</text>
<text transform="translate(1466.00,1108.83) rotate(-90)" font-size="20.79" font-weight="bold" textLength="27.06" lengthAdjust="spacingAndGlyphs">0.0</text>
<text transform="translate(1419.70,974.06) rotate(-90)" font-size="24.55" font-weight="bold" textLength="126.04" lengthAdjust="spacingAndGlyphs">Sensitivity</text>
<text x="1684.85" y="1170.90" font-size="24.41" font-weight="bold" font-style="normal" textLength="125.53" lengthAdjust="spacingAndGlyphs" fill="#000">Specificity</text>
<text x="1786.43" y="1059.90" font-size="22.07" font-weight="normal" font-style="normal" textLength="145.23" lengthAdjust="spacingAndGlyphs" fill="#000">c-statistic 0.87</text>
<text x="1785.98" y="1087.35" font-size="22.41" font-weight="normal" font-style="normal" textLength="198.57" lengthAdjust="spacingAndGlyphs" fill="#000">(95% CI, 0.83-0.90)</text>
<text x="1398.37" y="668.10" font-size="36.51" font-weight="bold" font-style="normal" textLength="21.06" lengthAdjust="spacingAndGlyphs" fill="#000">F</text>
</svg></body></html>
